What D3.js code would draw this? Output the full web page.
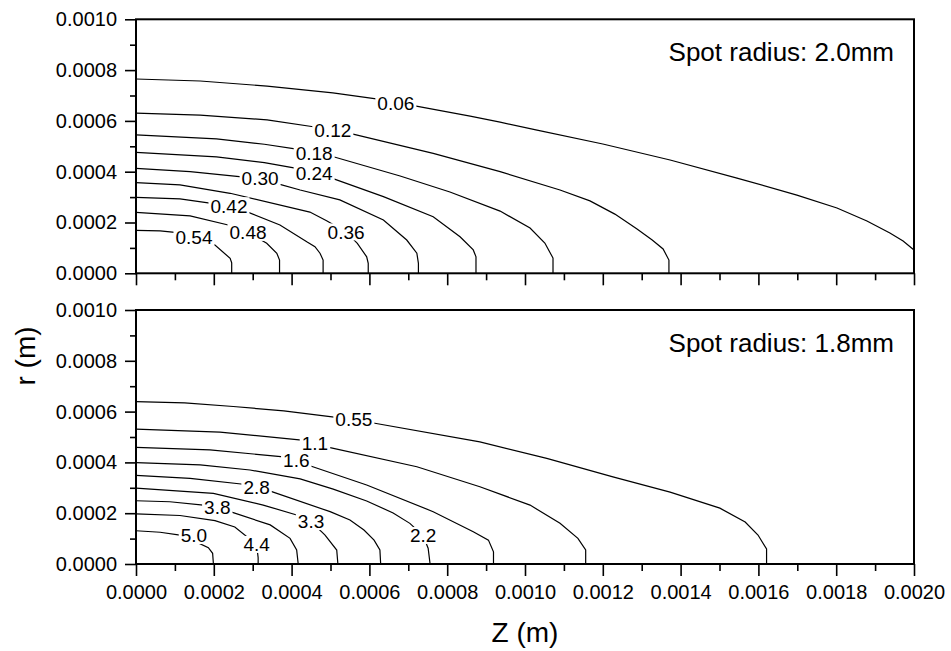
<!DOCTYPE html>
<meta charset="utf-8">
<html>
<head>
<style>
  body { margin: 0; background: #fff; }
  text { font-family: "Liberation Sans", Arial, sans-serif; fill: #000; }
  .contour { fill: none; stroke: #000; stroke-width: 1.2; }
  .frame { fill: none; stroke: #000; stroke-width: 2; }
  .tick line { stroke: #000; stroke-width: 1.6; }
  .clabel { font-size: 19px; }
  .ticklbl { font-size: 20px; }
</style>
</head>
<body>
<svg width="951" height="651"></svg>
<script src="https://cdn.jsdelivr.net/npm/d3@7"></script>
<script>

// axis ticks
var zTicks = [0, 0.0002, 0.0004, 0.0006, 0.0008, 0.0010, 0.0012, 0.0014, 0.0016, 0.0018, 0.0020];
var zMinor = [0.0001, 0.0003, 0.0005, 0.0007, 0.0009, 0.0011, 0.0013, 0.0015, 0.0017, 0.0019];
var rTicks = [0, 0.0002, 0.0004, 0.0006, 0.0008, 0.0010];
var rMinor = [0.0001, 0.0003, 0.0005, 0.0007, 0.0009];

// top panel (spot radius 2.0mm) contours, [z, r] in metres
var top006 = [[0,0.000765],[0.000165,0.000757],[0.000337,0.000737],[0.000506,0.000710],[0.000622,0.000686],[0.000668,0.000672],[0.000717,0.000659],[0.000859,0.000619],[0.000936,0.000595],[0.001031,0.000564],[0.001200,0.000509],[0.001373,0.000446],[0.001545,0.000375],[0.001699,0.000308],[0.001802,0.000257],[0.001879,0.000206],[0.001938,0.000159],[0.001972,0.000127],[0.002,0.000092]];
var top012 = [[0,0.000631],[0.000165,0.000623],[0.000337,0.000604],[0.000460,0.000576],[0.000506,0.000564],[0.000558,0.000548],[0.000764,0.000472],[0.000936,0.000400],[0.001090,0.000328],[0.001167,0.000285],[0.001231,0.000233],[0.001288,0.000174],[0.001327,0.000131],[0.001355,0.000096],[0.00137,0.000052],[0.00137,0]];
var top018 = [[0,0.000545],[0.000207,0.000529],[0.000330,0.000508],[0.000413,0.000489],[0.000458,0.000474],[0.000512,0.000457],[0.000679,0.000383],[0.000807,0.000320],[0.000936,0.000245],[0.001013,0.000178],[0.001051,0.000119],[0.001072,0.000060],[0.001072,0]];
var top024 = [[0,0.000476],[0.000207,0.000458],[0.000330,0.000436],[0.000413,0.000413],[0.000458,0.000395],[0.000512,0.000370],[0.000636,0.000302],[0.000764,0.000223],[0.000833,0.000144],[0.000867,0.000092],[0.000874,0.000065],[0.000874,0]];
var top030 = [[0,0.000413],[0.000139,0.000400],[0.000272,0.000380],[0.000319,0.000375],[0.000370,0.000350],[0.000422,0.000328],[0.000524,0.000289],[0.000636,0.000210],[0.000696,0.000131],[0.000722,0.000079],[0.000726,0.000039],[0.000726,0]];
var top036 = [[0,0.000357],[0.000113,0.000348],[0.000242,0.000315],[0.000447,0.000241],[0.000490,0.000207],[0.000540,0.000163],[0.000569,0.000118],[0.000593,0.000065],[0.000597,0.000039],[0.000597,0]];
var top042 = [[0,0.000299],[0.000113,0.000293],[0.000190,0.000276],[0.000239,0.000266],[0.000289,0.000240],[0.000370,0.000190],[0.000439,0.000124],[0.000460,0.000105],[0.000473,0.000079],[0.000481,0.000052],[0.000481,0]];
var top048 = [[0,0.000240],[0.000139,0.000226],[0.000237,0.000190],[0.000288,0.000161],[0.000336,0.000118],[0.000362,0.000079],[0.000369,0.000052],[0.000369,0]];
var top054 = [[0,0.000169],[0.000062,0.000167],[0.000100,0.000161],[0.000149,0.000139],[0.000203,0.000111],[0.000242,0.000059],[0.000246,0.000041],[0.000246,0]];

var topLevels = ["0.06", "0.12", "0.18", "0.24", "0.30", "0.36", "0.42", "0.48", "0.54"];
var topLabelZ = [0.000668, 0.000506, 0.000458, 0.000458, 0.000319, 0.000540, 0.000239, 0.000288, 0.000149];
var topLabelR = [0.000670, 0.000564, 0.000474, 0.000395, 0.000375, 0.000163, 0.000266, 0.000161, 0.000141];

// bottom panel (spot radius 1.8mm)
var bot055 = [[0,0.000639],[0.000125,0.000634],[0.000250,0.000620],[0.000380,0.000603],[0.000499,0.000580],[0.000560,0.000569],[0.000614,0.000554],[0.000884,0.000481],[0.001056,0.000416],[0.001226,0.000343],[0.001373,0.000283],[0.001501,0.000220],[0.001566,0.000165],[0.001599,0.000114],[0.001621,0.000059],[0.001621,0]];
var bot11 = [[0,0.000531],[0.000216,0.000519],[0.000426,0.000488],[0.000460,0.000474],[0.000499,0.000458],[0.000722,0.000383],[0.000884,0.000304],[0.001013,0.000232],[0.001090,0.000160],[0.001136,0.000101],[0.001156,0.000055],[0.001156,0]];
var bot16 = [[0,0.000459],[0.000190,0.000449],[0.000379,0.000422],[0.000413,0.000407],[0.000447,0.000387],[0.000593,0.000311],[0.000764,0.000206],[0.000867,0.000127],[0.000906,0.000094],[0.000919,0.000048],[0.000919,0]];
var bot22 = [[0,0.000399],[0.000165,0.000390],[0.000293,0.000370],[0.000422,0.000335],[0.000507,0.000295],[0.000593,0.000248],[0.000661,0.000201],[0.000704,0.000160],[0.000738,0.000112],[0.000751,0.000062],[0.000756,0]];
var bot28 = [[0,0.000349],[0.000139,0.000337],[0.000276,0.000314],[0.000310,0.000301],[0.000349,0.000285],[0.000499,0.000206],[0.000550,0.000173],[0.000586,0.000134],[0.000612,0.000094],[0.000627,0.000055],[0.000629,0]];
var bot33 = [[0,0.000299],[0.000199,0.000278],[0.000327,0.000232],[0.000413,0.000193],[0.000450,0.000167],[0.000486,0.000114],[0.000516,0.000055],[0.000519,0]];
var bot38 = [[0,0.000249],[0.000087,0.000245],[0.000173,0.000232],[0.000210,0.000222],[0.000246,0.000204],[0.000345,0.000154],[0.000396,0.000101],[0.000413,0.000055],[0.000417,0]];
var bot44 = [[0,0.000197],[0.000113,0.000191],[0.000203,0.000171],[0.000254,0.000146],[0.000310,0.000077],[0.000314,0.000025],[0.000314,0]];
var bot50 = [[0,0.000131],[0.000062,0.000125],[0.000113,0.000114],[0.000149,0.000091],[0.000186,0.000064],[0.000197,0.000042],[0.000199,0]];

var botLevels = ["0.55", "1.1", "1.6", "2.2", "2.8", "3.3", "3.8", "4.4", "5.0"];
var botLabelZ = [0.000560, 0.000460, 0.000412, 0.000738, 0.000310, 0.000450, 0.000209, 0.000310, 0.000149];
var botLabelR = [0.000569, 0.000474, 0.000407, 0.000112, 0.000301, 0.000167, 0.000222, 0.000077, 0.000112];

var svg = d3.select("svg");

var x = d3.scaleLinear().domain([0, 0.002]).range([136, 914]);

var panels = [
  { y0: 273.3, y1: 19.3, lines: [top006, top012, top018, top024, top030, top036, top042, top048, top054],
    levels: topLevels, lz: topLabelZ, lr: topLabelR, title: "Spot radius: 2.0mm", xLabels: false },
  { y0: 564, y1: 310, lines: [bot055, bot11, bot16, bot22, bot28, bot33, bot38, bot44, bot50],
    levels: botLevels, lz: botLabelZ, lr: botLabelR, title: "Spot radius: 1.8mm", xLabels: true }
];

var fmt = d3.format(".4f");

panels.forEach(function (p) {
  var y = d3.scaleLinear().domain([0, 0.001]).range([p.y0, p.y1]);
  var g = svg.append("g");

  var line = d3.line()
      .x(function(d) { return x(d[0]); })
      .y(function(d) { return y(d[1]); });

  g.selectAll(".contour")
    .data(p.lines)
    .enter().append("path")
      .attr("class", "contour")
      .attr("d", line);

  // contour labels with a white gap behind them
  var lab = g.selectAll(".lab")
    .data(p.levels)
    .enter().append("g")
      .attr("transform", function(d, i) { return "translate(" + x(p.lz[i]) + "," + y(p.lr[i]) + ")"; });
  lab.append("text")
      .attr("class", "clabel")
      .attr("text-anchor", "middle")
      .attr("dy", "0.36em")
      .text(function(d) { return d; });
  lab.each(function () {
    var t = d3.select(this).select("text");
    var w = t.node().getComputedTextLength();
    d3.select(this).insert("rect", "text")
      .attr("x", -w / 2 - 2).attr("y", -8.5)
      .attr("width", w + 4).attr("height", 17)
      .attr("fill", "#fff");
  });

  // minor ticks
  g.append("g")
      .attr("transform", "translate(136,0)")
      .call(d3.axisLeft(y).tickValues(rMinor).tickSize(6).tickFormat(""))
      .call(function(s) { s.select(".domain").remove(); });
  g.append("g")
      .attr("transform", "translate(0," + p.y0 + ")")
      .call(d3.axisBottom(x).tickValues(zMinor).tickSize(7).tickFormat(""))
      .call(function(s) { s.select(".domain").remove(); });

  // major ticks
  g.append("g")
      .attr("transform", "translate(136,0)")
      .call(d3.axisLeft(y).tickValues(rTicks).tickSize(11).tickPadding(8).tickFormat(fmt))
      .call(function(s) {
        s.select(".domain").remove();
        s.selectAll("text").attr("class", "ticklbl").attr("font-size", null).attr("font-family", null);
      });
  g.append("g")
      .attr("transform", "translate(0," + p.y0 + ")")
      .call(d3.axisBottom(x).tickValues(zTicks).tickSize(12).tickPadding(9)
        .tickFormat(p.xLabels ? fmt : ""))
      .call(function(s) {
        s.select(".domain").remove();
        s.selectAll("text").attr("class", "ticklbl").attr("font-size", null).attr("font-family", null);
      });

  g.append("rect")
      .attr("class", "frame")
      .attr("x", x(0)).attr("y", p.y1)
      .attr("width", x(0.002) - x(0)).attr("height", p.y0 - p.y1);

  g.append("text")
      .attr("x", x(0.002) - 20)
      .attr("y", p.y1 + 42)
      .attr("text-anchor", "end")
      .style("font-size", "26px")
      .text(p.title);
});

svg.append("text")
    .attr("x", 525).attr("y", 642)
    .attr("text-anchor", "middle")
    .style("font-size", "28px")
    .text("Z (m)");

svg.append("text")
    .attr("transform", "translate(35,356) rotate(-90)")
    .attr("text-anchor", "middle")
    .style("font-size", "28px")
    .text("r (m)");

</script>
</body>
</html>
